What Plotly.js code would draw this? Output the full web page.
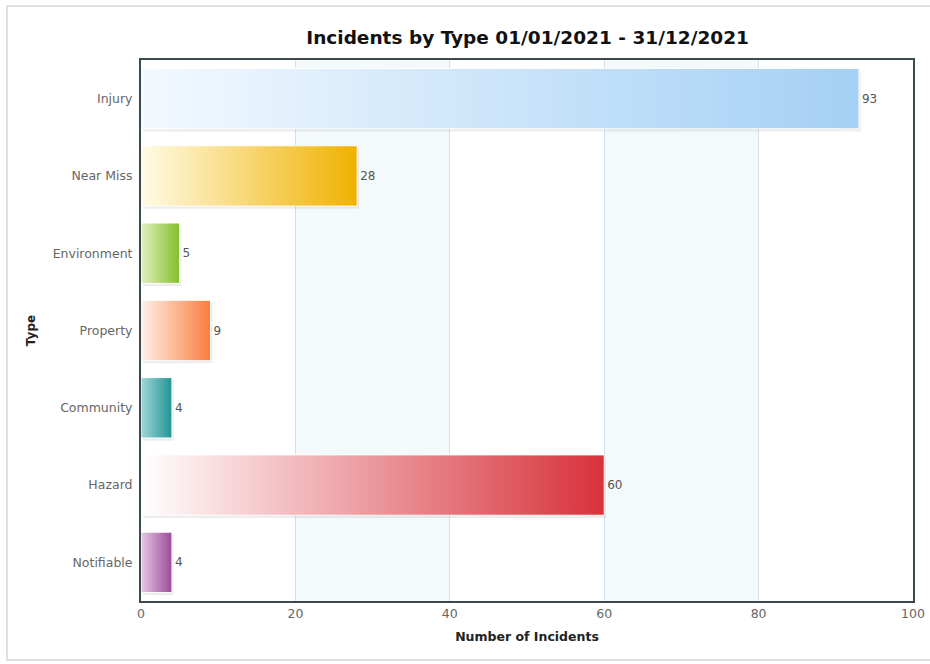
<!DOCTYPE html>
<html>
<head>
<meta charset="utf-8">
<script src="https://cdn.plot.ly/plotly-3.0.1.min.js"></script>
<style>
  html, body { margin: 0; padding: 0; background: #ffffff; }
  #chart { width: 930px; height: 664px; }
</style>
</head>
<body>
<div id="chart"></div>
<script>
// Incident types, listed top to bottom
const categories = ['Injury', 'Near Miss', 'Environment', 'Property', 'Community', 'Hazard', 'Notifiable'];
const counts = [93, 28, 5, 9, 4, 60, 4];
// light (left) and full (right) colour of each bar's gradient
const lightColors = ['#f3f9ff', '#fffbe6', '#e2f0c0', '#fff1ea', '#a3d8d8', '#ffffff', '#e8c8e6'];
const fullColors  = ['#a4d0f4', '#f0b100', '#84be2a', '#f87d3c', '#1f9494', '#d8313b', '#9b4a99'];
const xTicks = [0, 20, 40, 60, 80, 100];

const n = categories.length;
const yPos = categories.map((c, i) => n - 1 - i);
const half = 0.39;

const traces = [];

// soft drop shadow under each bar
categories.forEach((c, i) => {
  const v = counts[i], y = yPos[i];
  const dx = 0.25, dy = 0.035;
  traces.push({
    type: 'scatter', mode: 'lines', hoverinfo: 'skip', showlegend: false,
    x: [dx, v + dx, v + dx, dx, dx],
    y: [y - half - dy, y - half - dy, y + half - dy, y + half - dy, y - half - dy],
    fill: 'toself', fillcolor: 'rgba(0,0,0,0.07)',
    line: { width: 0 }
  });
});

// gradient-filled bars
categories.forEach((c, i) => {
  const v = counts[i], y = yPos[i];
  traces.push({
    type: 'scatter', mode: 'lines', name: c, showlegend: false,
    x: [0, v, v, 0, 0],
    y: [y - half, y - half, y + half, y + half, y - half],
    fill: 'toself',
    fillcolor: fullColors[i],
    fillgradient: {
      type: 'horizontal',
      colorscale: [[0, lightColors[i]], [1, fullColors[i]]]
    },
    line: { color: 'rgba(255,255,255,0.9)', width: 1 },
    hoverinfo: 'skip'
  });
});

// value labels at the end of each bar
traces.push({
  type: 'bar', orientation: 'h', showlegend: false,
  x: counts, y: yPos, width: half * 2,
  marker: { color: 'rgba(0,0,0,0)', line: { width: 0 } },
  text: counts.map(String), textposition: 'outside',
  textfont: { family: 'DejaVu Sans, Verdana, sans-serif', size: 12, color: '#555555' },
  cliponaxis: false,
  hovertemplate: '%{text}<extra></extra>'
});

// alternating background bands between grid lines
const bandShapes = [];
for (let k = 1; k < xTicks.length - 1; k += 2) {
  bandShapes.push({
    type: 'rect', layer: 'below', xref: 'x', yref: 'paper',
    x0: xTicks[k], x1: xTicks[k + 1], y0: 0, y1: 1,
    fillcolor: '#f4f9fc', line: { width: 0 }
  });
}
// light frame around the whole chart
bandShapes.push({
  type: 'rect', layer: 'below', xref: 'paper', yref: 'paper',
  x0: -134 / 772, x1: 1 + 20 / 772, y0: -59 / 541, y1: 1 + 54 / 541,
  fillcolor: 'rgba(0,0,0,0)', line: { color: '#d8d8d8', width: 1.5 }
});

const layout = {
  width: 930, height: 664,
  margin: { l: 141, r: 17, t: 60, b: 63 },
  paper_bgcolor: '#ffffff', plot_bgcolor: '#ffffff',
  font: { family: 'DejaVu Sans, Verdana, sans-serif', color: '#555555', size: 12 },
  title: {
    text: 'Incidents by Type 01/01/2021 - 31/12/2021',
    font: { family: 'DejaVu Sans, Verdana, sans-serif', size: 18.5, color: '#111111', weight: 'bold' },
    x: 0.5673, xanchor: 'center', y: 0.944, yanchor: 'middle'
  },
  xaxis: {
    range: [0, 100], tickvals: xTicks, ticks: '', ticklen: 0,
    showgrid: true, gridcolor: '#d3e1e8', gridwidth: 1,
    zeroline: false,
    showline: true, mirror: true, linecolor: '#3b4a50', linewidth: 2,
    tickfont: { size: 12.5, color: '#666666' },
    title: {
      text: 'Number of Incidents', standoff: 12,
      font: { size: 12.5, color: '#222222', weight: 'bold' }
    },
    fixedrange: true
  },
  yaxis: {
    range: [-0.5, n - 0.5], tickvals: yPos, ticktext: categories,
    ticks: '', showgrid: false, zeroline: false,
    showline: true, mirror: true, linecolor: '#3b4a50', linewidth: 2,
    tickfont: { size: 12.5, color: '#666666' },
    ticklabelstandoff: 4,
    title: {
      text: 'Type', standoff: 14,
      font: { size: 12, color: '#222222', weight: 'bold' }
    },
    fixedrange: true
  },
  shapes: bandShapes,
  showlegend: false
};

Plotly.newPlot('chart', traces, layout, { displayModeBar: false, staticPlot: true });
</script>
</body>
</html>
